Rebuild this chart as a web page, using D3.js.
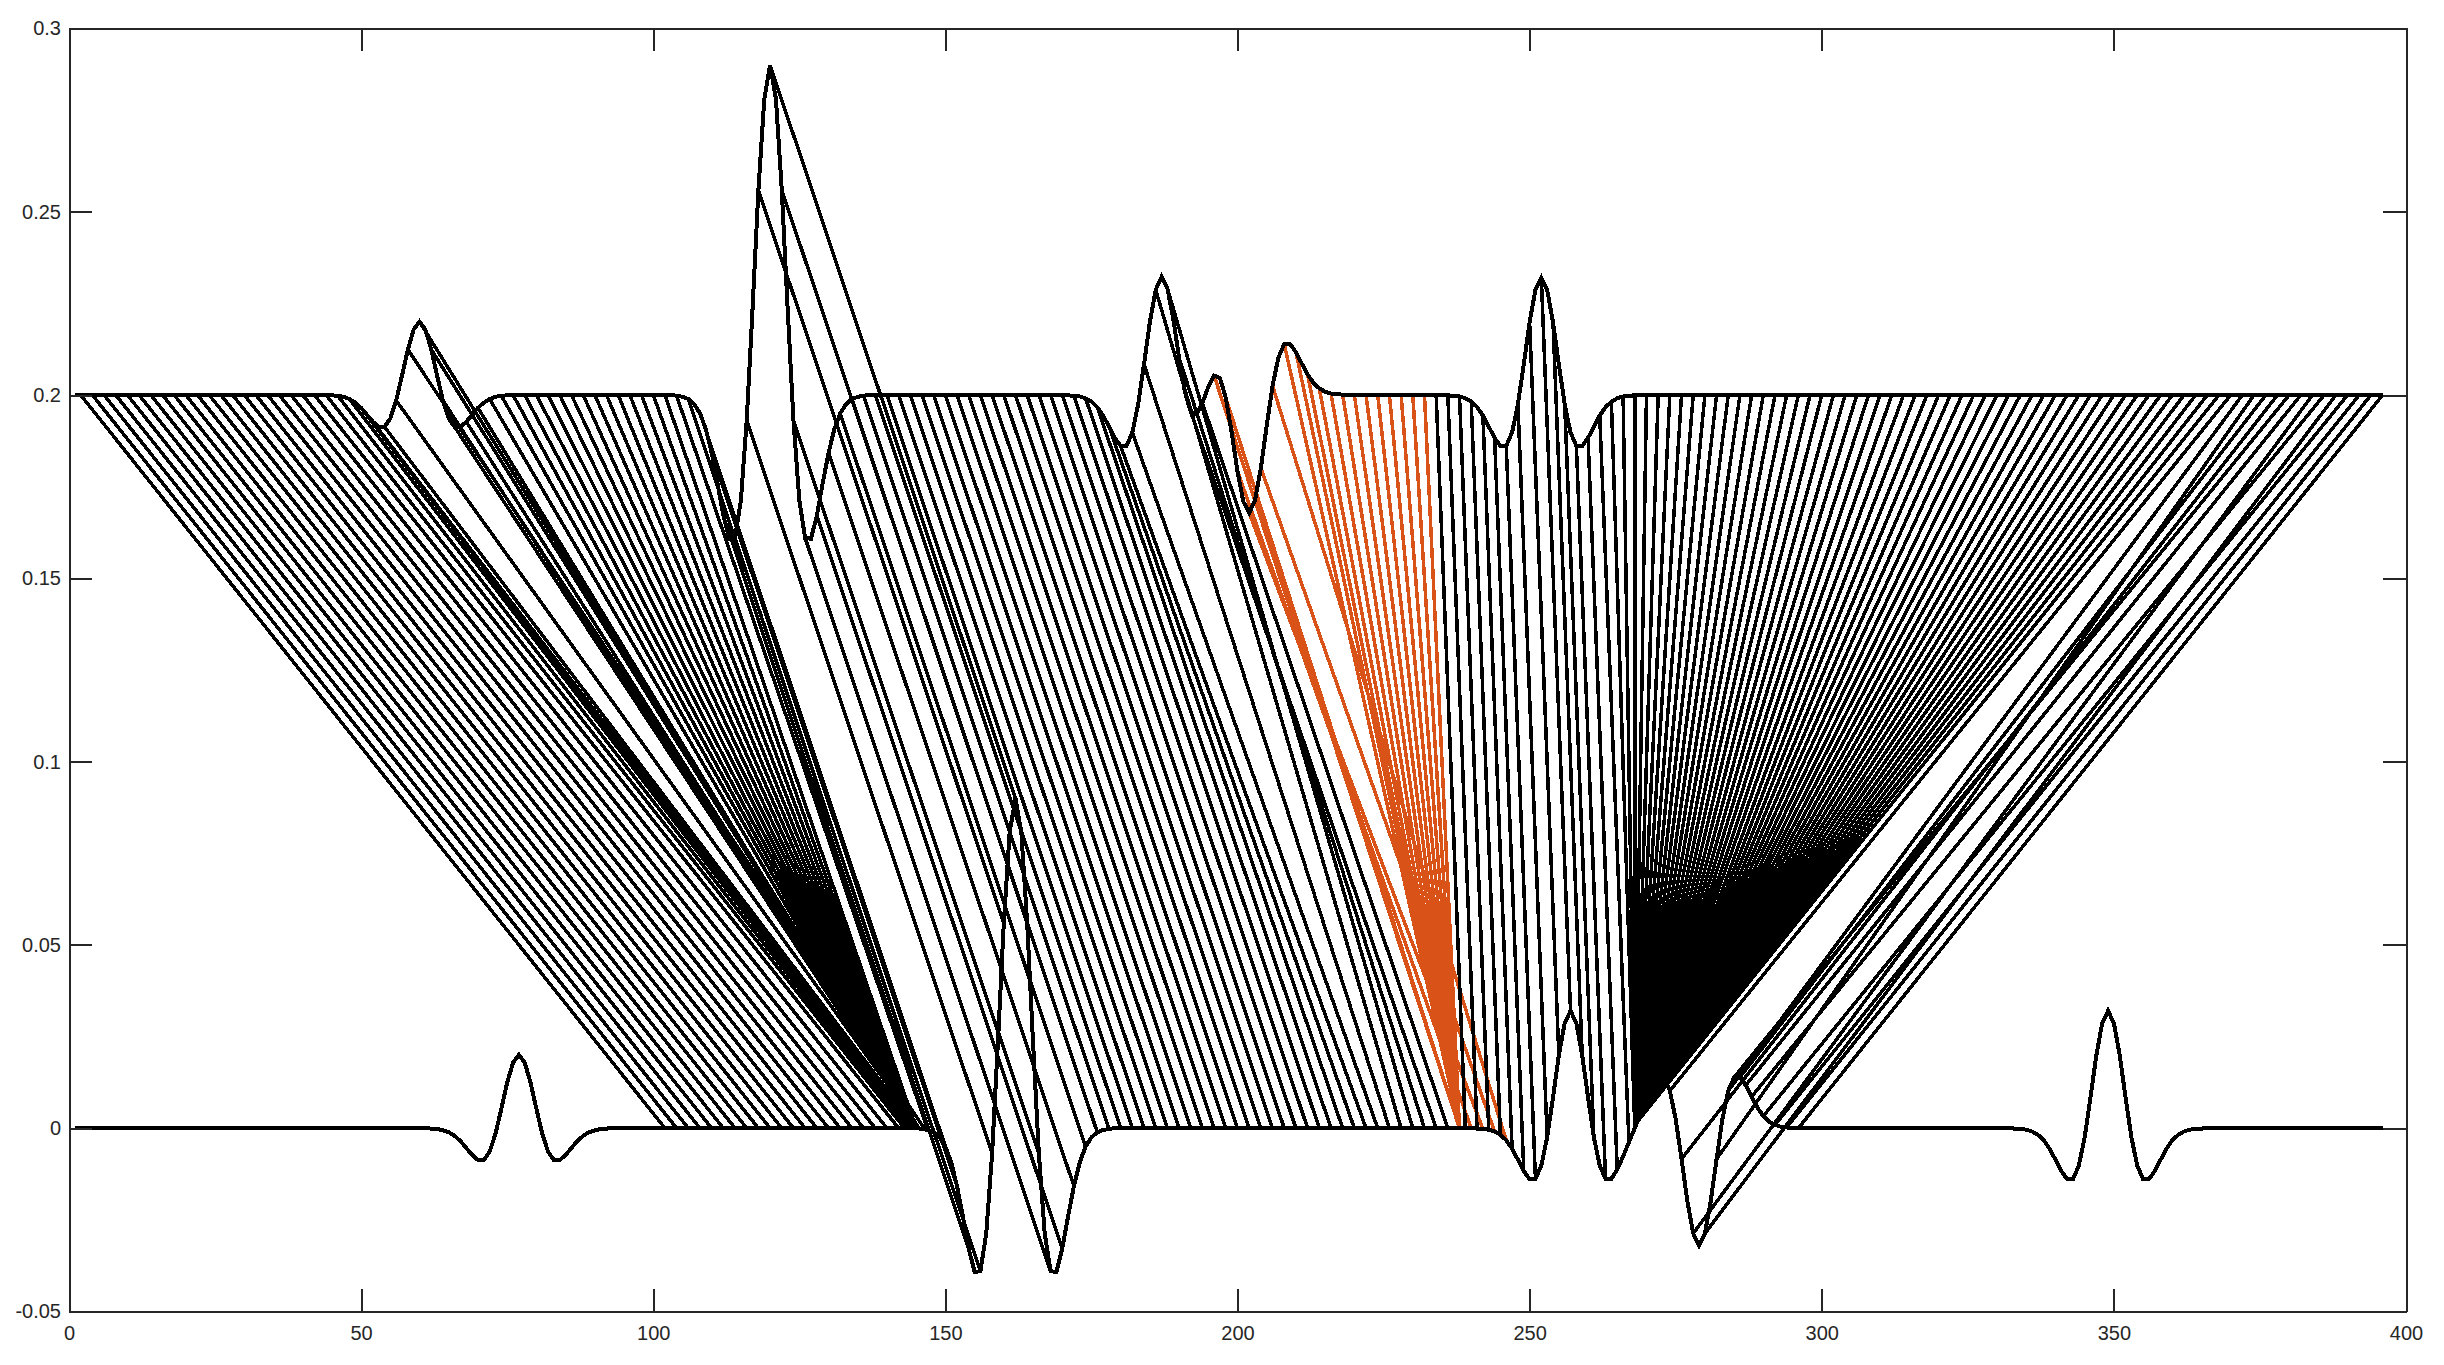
<!DOCTYPE html>
<html><head><meta charset="utf-8">
<script src="https://cdn.jsdelivr.net/npm/d3@7/dist/d3.min.js"></script>
<style>html,body{margin:0;padding:0;background:#fff}svg{display:block}</style>
</head><body><svg id="c" width="2444" height="1365"></svg>
<script>
const xTicks=[0,50,100,150,200,250,300,350,400];
const xLabels=["0","50","100","150","200","250","300","350","400"];
const yTicks=[-0.05,0,0.05,0.1,0.15,0.2,0.25,0.3];
const yLabels=["-0.05","0","0.05","0.1","0.15","0.2","0.25","0.3"];

const topX=[1,43,44,45,46,47,48,49,50,51,52,53,54,55,56,57,58,59,60,61,62,63,64,65,66,67,68,69,70,71,72,73,74,75,76,77,
103,104,105,106,107,108,109,110,111,112,113,114,115,116,117,118,119,120,121,122,123,124,125,126,127,128,129,130,131,132,133,134,135,136,137,
170,171,172,173,174,175,176,177,178,179,180,181,182,183,184,185,186,187,188,189,190,191,192,193,194,195,196,197,198,199,200,201,202,203,204,205,206,207,208,209,210,211,212,213,214,215,216,217,218,219,
235,236,237,238,239,240,241,242,243,244,245,246,247,248,249,250,251,252,253,254,255,256,257,258,259,260,261,262,263,264,265,266,267,268,269,396];
const topY=[.2,.2,.2,.1999,.1998,.1995,.1989,.1979,.1965,.1946,.1927,.1913,.1913,.1936,.1985,.2053,.2124,.2179,.22,.2179,.2124,.2053,.1985,.1936,.1913,.1913,.1927,.1946,.1965,.1979,.1989,.1995,.1998,.1999,.2,.2,
.2,.1998,.1995,.1989,.1975,.195,.1907,.1842,.1759,.1671,.1608,.161,.1713,.1931,.2236,.2559,.2807,.29,.2807,.2559,.2236,.1931,.1713,.161,.1608,.1671,.1759,.1842,.1907,.195,.1975,.1989,.1995,.1998,.2,
.2,.1999,.1998,.1996,.1991,.1982,.1967,.1944,.1914,.1883,.1861,.1861,.1898,.1975,.2084,.2199,.2287,.2322,.2291,.2208,.2102,.2008,.1954,.1947,.1978,.2022,.2053,.2046,.1992,.1898,.1792,.1709,.1678,.1713,.1801,.1916,.2025,.2102,.2139,.2139,.2117,.2086,.2056,.2033,.2018,.2009,.2004,.2002,.2001,.2,
.2,.1999,.1998,.1996,.1991,.1982,.1967,.1944,.1914,.1883,.1861,.1861,.1898,.1975,.2084,.2199,.2287,.232,.2287,.2199,.2084,.1975,.1898,.1861,.1861,.1883,.1914,.1944,.1967,.1982,.1991,.1996,.1998,.1999,.2,.2];

const bottomX=[1,60,61,62,63,64,65,66,67,68,69,70,71,72,73,74,75,76,77,78,79,80,81,82,83,84,85,86,87,88,89,90,91,92,93,94,
145,146,147,148,149,150,151,152,153,154,155,156,157,158,159,160,161,162,163,164,165,166,167,168,169,170,171,172,173,174,175,176,177,178,179,
240,241,242,243,244,245,246,247,248,249,250,251,252,253,254,255,256,257,258,259,260,261,262,263,264,265,266,267,268,269,270,271,272,273,274,275,276,277,278,279,280,281,282,283,284,285,286,287,288,289,290,291,292,293,294,295,296,
332,333,334,335,336,337,338,339,340,341,342,343,344,345,346,347,348,349,350,351,352,353,354,355,356,357,358,359,360,361,362,363,364,365,366,396];
const bottomY=[0,0,0,-.0001,-.0002,-.0006,-.0011,-.0021,-.0035,-.0054,-.0073,-.0087,-.0087,-.0064,-.0015,.0053,.0124,.0179,.02,.0179,.0124,.0053,-.0015,-.0064,-.0087,-.0087,-.0073,-.0054,-.0035,-.0021,-.0011,-.0006,-.0002,-.0001,0,0,
0,-.0002,-.0005,-.0011,-.0025,-.005,-.0093,-.0158,-.0241,-.0329,-.0392,-.039,-.0287,-.0069,.0236,.0559,.0807,.09,.0807,.0559,.0236,-.0069,-.0287,-.039,-.0392,-.0329,-.0241,-.0158,-.0093,-.005,-.0025,-.0011,-.0005,-.0002,0,
0,-.0001,-.0002,-.0004,-.0009,-.0018,-.0033,-.0056,-.0086,-.0117,-.0139,-.0139,-.0102,-.0025,.0084,.0199,.0287,.032,.0287,.0199,.0084,-.0025,-.0102,-.0139,-.0138,-.0113,-.0077,-.0038,0,.0038,.0077,.0113,.0138,.0138,.0102,.0025,-.0084,-.0199,-.0287,-.032,-.0287,-.0199,-.0084,.0025,.0102,.0139,.0139,.0117,.0086,.0056,.0033,.0018,.0009,.0004,.0002,.0001,0,
0,-.0001,-.0002,-.0004,-.0009,-.0018,-.0033,-.0056,-.0086,-.0117,-.0139,-.0139,-.0102,-.0025,.0084,.0199,.0287,.032,.0287,.0199,.0084,-.0025,-.0102,-.0139,-.0139,-.0117,-.0086,-.0056,-.0033,-.0018,-.0009,-.0004,-.0002,-.0001,0,0];

const blackLinkTop=[2,4,6,8,10,12,14,16,18,20,22,24,26,28,30,32,34,36,38,40,42,
44,46,48,50,52,54,56,58,60,62,
64,66,68,70,72,74,76,78,80,82,84,86,88,90,92,94,96,98,100,
102,104,106,
108,110,112,114,116,118,120,122,124,126,128,130,132,134,136,138,140,142,144,146,148,150,152,154,156,158,160,162,164,166,168,170,172,174,176,178,180,182,184,186,188,190,192,194,
234,236,238,240,242,244,246,248,250,252,254,256,258,260,262,264,
266,268,270,272,274,276,278,280,282,284,286,288,290,292,294,296,298,300,302,304,306,308,310,312,
314,316,318,320,322,324,326,328,330,332,334,336,338,340,342,344,346,348,350,352,354,356,358,360,362,364,366,368,
370,372,374,376,378,380,382,384,386,388,390,392,394,396];
const blackLinkBottom=[102,104,106,108,110,112,114,116,118,120,122,124,126,128,130,132,134,136,138,140,142,
143,143.5,144,144.5,145,145,145.5,146.5,145.5,145.5,
145,145,145,145,145,145,145,145,145,145,145,145,145,145,145,145,145,145,145,
145,147,148,
150,152,154,156,158,160,162,164,166,168,170,172,174,176,178,180,182,184,186,188,190,192,194,196,198,200,202,204,206,208,210,212,214,216,218,220,222,224,226,228,230,232,234,236,
239,241,243,245,247,249,251,253,255,257,259,261,263,265,267,268,
268,268,268,268,268,268,268,268,268,268,268,268,268,268,268,268,268,268,268,268,268,268,268,268,
268.5,268.5,268.5,268.5,268.5,268.5,268.5,268.5,268.5,268.5,268.5,268.5,268.5,268.5,268.5,268.5,268.5,268.5,268.5,268.5,268.5,268.5,268.5,268.5,268.5,268.5,268.5,268.5,
274,284,282,286,276,285,287,278,288,280,290,292,294,296];
const orangeLinkTop=[196,198,200,202,204,206,208,210,212,214,216,218,220,222,224,226,228,230,232];
const orangeLinkBottom=[238,238,240,242,244,246,238,238,238,238,238,238,238,238,238,238,238,238,238];

const svg=d3.select("#c");
const PL=69,PR=2406,PT=28.4,PB=1311.5;
const x=d3.scaleLinear().domain([0,400]).range([PL,PR]);
const y=d3.scaleLinear().domain([-0.05,0.3]).range([PB,PT]);
const topCurve=d3.scaleLinear().domain(topX).range(topY);
const bottomCurve=d3.scaleLinear().domain(bottomX).range(bottomY);
const INK="#000000",AXIS="#262626",ORANGE="#d95319",SW=3.5;

function links(tops,bottoms,color){
  svg.append("g").attr("fill","none").attr("stroke",color).attr("stroke-width",SW)
    .attr("shape-rendering","crispEdges").selectAll("line").data(tops).join("line")
    .attr("x1",d=>x(d)).attr("y1",d=>y(topCurve(d)))
    .attr("x2",(d,i)=>x(bottoms[i])).attr("y2",(d,i)=>y(bottomCurve(bottoms[i])));
}
links(orangeLinkTop,orangeLinkBottom,ORANGE);
links(blackLinkTop,blackLinkBottom,INK);

const lineGen=d3.line().x(d=>x(d[0])).y(d=>y(d[1]));
[[topX,topY],[bottomX,bottomY]].forEach(([xs,ys])=>{
  svg.append("path").datum(xs.map((v,i)=>[v,ys[i]])).attr("d",lineGen)
    .attr("fill","none").attr("stroke",INK).attr("stroke-width",4)
    .attr("stroke-linejoin","miter").attr("stroke-miterlimit",3).attr("shape-rendering","crispEdges");
});

const TICK=23,FS="20px";
const axB=d3.axisBottom(x).tickValues(xTicks).tickSizeInner(-TICK).tickSizeOuter(0).tickPadding(14).tickFormat((d,i)=>xLabels[i]);
const axT=d3.axisTop(x).tickValues(xTicks).tickSizeInner(-TICK).tickSizeOuter(0).tickFormat("");
const axL=d3.axisLeft(y).tickValues(yTicks).tickSizeInner(-TICK).tickSizeOuter(0).tickPadding(8).tickFormat((d,i)=>yLabels[i]);
const axR=d3.axisRight(y).tickValues(yTicks).tickSizeInner(-TICK).tickSizeOuter(0).tickFormat("");
[[axB,`translate(0,${PB})`],[axT,`translate(0,${PT})`],[axL,`translate(${PL},0)`],[axR,`translate(${PR},0)`]].forEach(([a,t])=>{
  const g=svg.append("g").attr("transform",t).call(a);
  g.selectAll("path,line").attr("stroke",AXIS).attr("stroke-width",2).attr("shape-rendering","crispEdges");
  g.selectAll("text").attr("fill",AXIS).style("font-family","'Liberation Sans',Arial,sans-serif").style("font-size",FS);
});
</script></body></html>
